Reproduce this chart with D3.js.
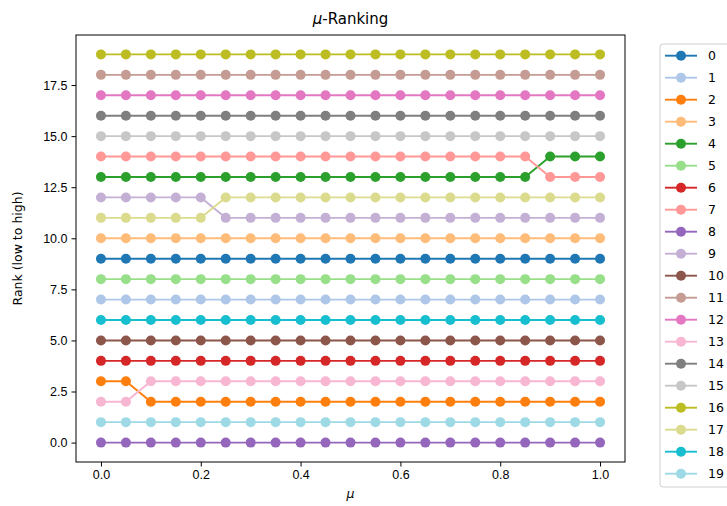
<!DOCTYPE html>
<html>
<head>
<meta charset="utf-8">
<script src="https://cdn.jsdelivr.net/npm/d3@7"></script>
<style>
  body { margin: 0; background: #fff; }
  svg { font-family: "DejaVu Sans", sans-serif; }
  .axis text { font-size: 12.5px; fill: #000; }
  .axis path, .axis line { stroke: #000; stroke-width: 1; }
</style>
</head>
<body>
<div id="chart"></div>
<script>
// mu values along the x axis
const muValues = [0.0, 0.05, 0.1, 0.15, 0.2, 0.25, 0.3, 0.35, 0.4, 0.45, 0.5,
                  0.55, 0.6, 0.65, 0.7, 0.75, 0.8, 0.85, 0.9, 0.95, 1.0];

const seriesNames = ["0","1","2","3","4","5","6","7","8","9",
                     "10","11","12","13","14","15","16","17","18","19"];

// rank of each series at each mu
const rank0  = [9,9,9,9,9,9,9,9,9,9,9,9,9,9,9,9,9,9,9,9,9];
const rank1  = [7,7,7,7,7,7,7,7,7,7,7,7,7,7,7,7,7,7,7,7,7];
const rank2  = [3,3,2,2,2,2,2,2,2,2,2,2,2,2,2,2,2,2,2,2,2];
const rank3  = [10,10,10,10,10,10,10,10,10,10,10,10,10,10,10,10,10,10,10,10,10];
const rank4  = [13,13,13,13,13,13,13,13,13,13,13,13,13,13,13,13,13,13,14,14,14];
const rank5  = [8,8,8,8,8,8,8,8,8,8,8,8,8,8,8,8,8,8,8,8,8];
const rank6  = [4,4,4,4,4,4,4,4,4,4,4,4,4,4,4,4,4,4,4,4,4];
const rank7  = [14,14,14,14,14,14,14,14,14,14,14,14,14,14,14,14,14,14,13,13,13];
const rank8  = [0,0,0,0,0,0,0,0,0,0,0,0,0,0,0,0,0,0,0,0,0];
const rank9  = [12,12,12,12,12,11,11,11,11,11,11,11,11,11,11,11,11,11,11,11,11];
const rank10 = [5,5,5,5,5,5,5,5,5,5,5,5,5,5,5,5,5,5,5,5,5];
const rank11 = [18,18,18,18,18,18,18,18,18,18,18,18,18,18,18,18,18,18,18,18,18];
const rank12 = [17,17,17,17,17,17,17,17,17,17,17,17,17,17,17,17,17,17,17,17,17];
const rank13 = [2,2,3,3,3,3,3,3,3,3,3,3,3,3,3,3,3,3,3,3,3];
const rank14 = [16,16,16,16,16,16,16,16,16,16,16,16,16,16,16,16,16,16,16,16,16];
const rank15 = [15,15,15,15,15,15,15,15,15,15,15,15,15,15,15,15,15,15,15,15,15];
const rank16 = [19,19,19,19,19,19,19,19,19,19,19,19,19,19,19,19,19,19,19,19,19];
const rank17 = [11,11,11,11,11,12,12,12,12,12,12,12,12,12,12,12,12,12,12,12,12];
const rank18 = [6,6,6,6,6,6,6,6,6,6,6,6,6,6,6,6,6,6,6,6,6];
const rank19 = [1,1,1,1,1,1,1,1,1,1,1,1,1,1,1,1,1,1,1,1,1];

const ranks = [rank0, rank1, rank2, rank3, rank4, rank5, rank6, rank7, rank8, rank9,
               rank10, rank11, rank12, rank13, rank14, rank15, rank16, rank17, rank18, rank19];

const xTicks = [0.0, 0.2, 0.4, 0.6, 0.8, 1.0];
const yTicks = [0.0, 2.5, 5.0, 7.5, 10.0, 12.5, 15.0, 17.5];

// matplotlib tab20
const colors = ["#1f77b4","#aec7e8","#ff7f0e","#ffbb78","#2ca02c","#98df8a","#d62728","#ff9896",
                "#9467bd","#c5b0d5","#8c564b","#c49c94","#e377c2","#f7b6d2","#7f7f7f","#c7c7c7",
                "#bcbd22","#dbdb8d","#17becf","#9edae5"];

function draw() {
  const width = 727, height = 506;
  const left = 76, right = 625, top = 35, bottom = 462;

  const svg = d3.select("#chart").append("svg")
    .attr("width", width)
    .attr("height", height);

  const xScale = d3.scaleLinear().domain([-0.05, 1.05]).range([left, right]);
  const yScale = d3.scaleLinear().domain([-0.95, 19.95]).range([bottom, top]);

  const line = d3.line()
    .x((d, i) => xScale(muValues[i]))
    .y(d => yScale(d));

  const series = svg.append("g").selectAll("g")
    .data(ranks)
    .enter().append("g");

  series.append("path")
    .attr("d", d => line(d))
    .attr("fill", "none")
    .attr("stroke", (d, i) => colors[i])
    .attr("stroke-width", 1.9);

  series.each(function(d, i) {
    d3.select(this).selectAll("circle")
      .data(d)
      .enter().append("circle")
      .attr("cx", (v, j) => xScale(muValues[j]))
      .attr("cy", v => yScale(v))
      .attr("r", 5)
      .attr("fill", colors[i]);
  });

  svg.append("g")
    .attr("class", "axis")
    .attr("transform", `translate(0,${bottom})`)
    .call(d3.axisBottom(xScale).tickValues(xTicks).tickFormat(d3.format(".1f")).tickSizeOuter(0).tickSize(4.5).tickPadding(4))
    .call(g => g.select(".domain").remove());

  svg.append("g")
    .attr("class", "axis")
    .attr("transform", `translate(${left},0)`)
    .call(d3.axisLeft(yScale).tickValues(yTicks).tickFormat(d3.format(".1f")).tickSizeOuter(0).tickSize(4.5).tickPadding(4))
    .call(g => g.select(".domain").remove());

  // frame
  svg.append("rect")
    .attr("x", left).attr("y", top)
    .attr("width", right - left).attr("height", bottom - top)
    .attr("fill", "none")
    .attr("stroke", "#000")
    .attr("stroke-width", 1);

  // title
  const title = svg.append("text")
    .attr("x", (left + right) / 2)
    .attr("y", 24)
    .attr("text-anchor", "middle")
    .style("font-size", "15px");
  title.append("tspan").style("font-style", "italic").text("μ");
  title.append("tspan").text("-Ranking");

  svg.append("text")
    .attr("x", (left + right) / 2)
    .attr("y", 498)
    .attr("text-anchor", "middle")
    .style("font-size", "12.5px")
    .style("font-style", "italic")
    .text("μ");

  svg.append("text")
    .attr("transform", `translate(22,${(top + bottom) / 2}) rotate(-90)`)
    .attr("text-anchor", "middle")
    .style("font-size", "12.5px")
    .text("Rank (low to high)");

  // legend
  const legend = svg.append("g").attr("transform", "translate(660,44)");
  legend.append("rect")
    .attr("x", 0).attr("y", 0)
    .attr("width", 90).attr("height", 443)
    .attr("rx", 3)
    .attr("fill", "#fff")
    .attr("fill-opacity", 0.8)
    .attr("stroke", "#d0d0d0")
    .attr("stroke-width", 1);

  const items = legend.selectAll(".item")
    .data(seriesNames)
    .enter().append("g")
    .attr("class", "item")
    .attr("transform", (d, i) => `translate(0,${11.7 + i * 22})`);

  items.append("line")
    .attr("x1", 5).attr("x2", 37)
    .attr("stroke", (d, i) => colors[i])
    .attr("stroke-width", 1.9);

  items.append("circle")
    .attr("cx", 21).attr("r", 5)
    .attr("fill", (d, i) => colors[i]);

  items.append("text")
    .attr("x", 48)
    .attr("dy", "0.36em")
    .style("font-size", "12.5px")
    .text(d => d);
}

draw();
</script>
</body>
</html>
